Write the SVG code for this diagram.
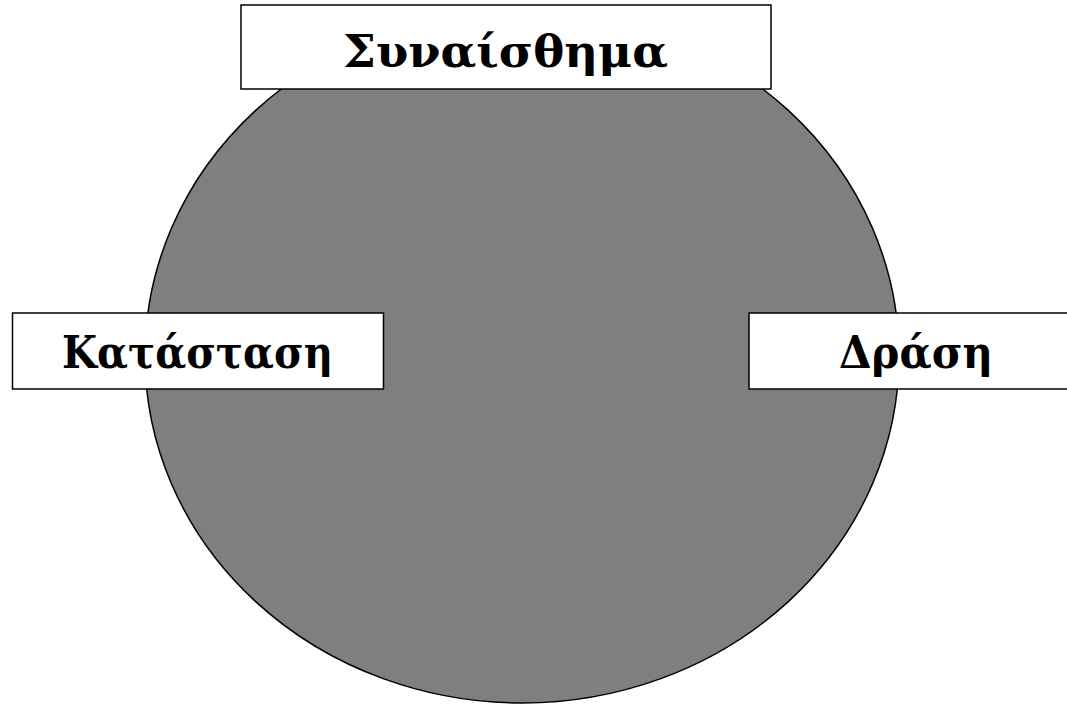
<svg xmlns="http://www.w3.org/2000/svg" width="1067" height="705" viewBox="0 0 1067 705">
<style>
.box{fill:#ffffff;stroke:#000000;stroke-width:1.5}
.lbl{font-family:"DejaVu Serif","Liberation Serif",serif;font-weight:bold;font-size:45px;fill:#000000}
</style>
<rect width="1067" height="705" fill="#ffffff"/>
<g id="circle">
<ellipse cx="522" cy="356" rx="377" ry="347" fill="#7f7f7f" stroke="#000000" stroke-width="1.5"/>
</g>
<g id="connectors"></g>
<g id="node-synaisthima">
<rect class="box" x="241" y="5" width="530" height="84"/>
<text class="lbl" x="343" y="67" textLength="325" lengthAdjust="spacingAndGlyphs">Συναίσθημα</text>
</g>
<g id="node-katastasi">
<rect class="box" x="12.5" y="313" width="371" height="76"/>
<text class="lbl" x="62" y="368" textLength="271" lengthAdjust="spacingAndGlyphs">Κατάσταση</text>
</g>
<g id="node-drasi">
<rect class="box" x="749" y="313" width="330" height="76"/>
<text class="lbl" x="839" y="368" textLength="154" lengthAdjust="spacingAndGlyphs">Δράση</text>
</g>
</svg>
